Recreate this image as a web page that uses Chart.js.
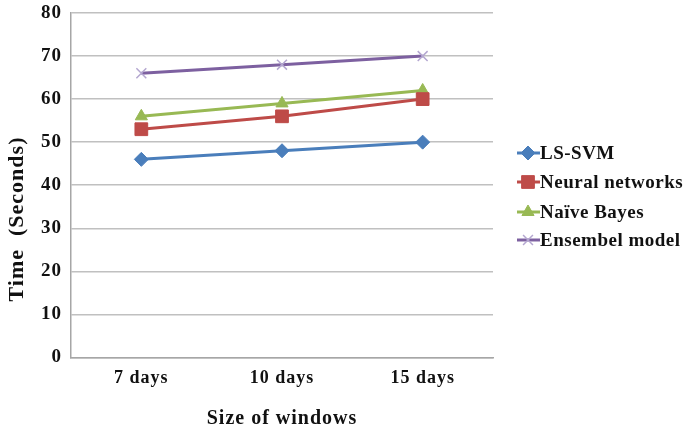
<!DOCTYPE html>
<html>
<head>
<meta charset="utf-8">
<script src="https://cdn.jsdelivr.net/npm/chart.js@4"></script>
<style>
  html, body { margin: 0; padding: 0; background: #fff; }
  #wrap { width: 687px; height: 429px; }
</style>
</head>
<body>
<div id="wrap"><canvas id="timeChart" width="687" height="429"></canvas></div>
<script>
const windowSizes = ["7 days", "10 days", "15 days"];
const lsSvm = [46, 48, 50];
const neuralNetworks = [53, 56, 60];
const naiveBayes = [56, 59, 62];
const ensembelModel = [66, 68, 70];
const yTicks = [0, 10, 20, 30, 40, 50, 60, 70, 80];
const yTitle = "Time  (Seconds)";

const serif = "'Liberation Serif', 'Times New Roman', serif";

// the source text is set a little loose, so widen letters before layout
const looseText = {
    id: "looseText",
    beforeUpdate(chart) { chart.ctx.letterSpacing = "1px"; },
    beforeDraw(chart) { chart.ctx.letterSpacing = "1px"; }
};

// y title sits lower than the plot centre in the source, so draw it by hand
const sideTitle = {
    id: "sideTitle",
    afterDraw(chart) {
        const ctx = chart.ctx;
        ctx.save();
        ctx.translate(17, 219);
        ctx.rotate(-Math.PI / 2);
        ctx.letterSpacing = "1px";
        ctx.font = "bold 22px " + serif;
        ctx.fillStyle = "#111";
        ctx.textAlign = "center";
        ctx.textBaseline = "middle";
        ctx.fillText(yTitle, 0, 0);
        ctx.restore();
    }
};

// legend drawn by hand: short line + marker, then bold label
const sideLegend = {
    id: "sideLegend",
    afterDraw(chart) {
        const ctx = chart.ctx;
        const x0 = 528;
        const rows = [153, 182, 212, 240];
        chart.data.datasets.forEach((ds, i) => {
            const y = rows[i];
            ctx.save();
            ctx.strokeStyle = ds.borderColor;
            ctx.lineWidth = 3;
            ctx.beginPath();
            ctx.moveTo(x0 - 11, y);
            ctx.lineTo(x0 + 12, y);
            ctx.stroke();
            ctx.fillStyle = ds.pointBackgroundColor;
            ctx.strokeStyle = ds.pointBorderColor;
            ctx.lineWidth = ds.pointBorderWidth || 1;
            Chart.helpers.drawPoint(ctx, {
                pointStyle: ds.pointStyle,
                rotation: 0,
                radius: ds.pointRadius,
                borderWidth: ds.pointBorderWidth || 1
            }, x0, y);
            ctx.fillStyle = "#111";
            ctx.letterSpacing = "0.5px";
            ctx.font = "bold 19px " + serif;
            ctx.textBaseline = "middle";
            ctx.fillText(ds.label, x0 + 12, y + 1);
            ctx.restore();
        });
    }
};

const makeSet = (label, data, color, style, extra) => Object.assign({
    label: label,
    data: data,
    borderColor: color,
    backgroundColor: color,
    pointBackgroundColor: color,
    pointBorderColor: color,
    pointStyle: style,
    pointRadius: 6,
    pointHoverRadius: 6,
    pointBorderWidth: 1,
    borderWidth: 3,
    tension: 0
}, extra || {});

new Chart(document.getElementById("timeChart"), {
    type: "line",
    data: {
        labels: windowSizes,
        datasets: [
            makeSet("LS-SVM", lsSvm, "#4a7ebb", "rectRot", { pointRadius: 7 }),
            makeSet("Neural networks", neuralNetworks, "#be4b48", "rect", { pointRadius: 9 }),
            makeSet("Naïve Bayes", naiveBayes, "#98b954", "triangle", { pointRadius: 7 }),
            makeSet("Ensembel model", ensembelModel, "#7d60a0", "crossRot", {
                pointRadius: 7,
                pointBorderColor: "#b4a7d0",
                pointBackgroundColor: "#b4a7d0",
                pointBorderWidth: 1.5
            })
        ]
    },
    options: {
        responsive: false,
        animation: false,
        layout: { padding: { top: 13, right: 194, left: 32, bottom: 0 } },
        plugins: {
            legend: { display: false },
            tooltip: { enabled: false }
        },
        scales: {
            x: {
                offset: true,
                grid: { display: false, drawTicks: false },
                border: { color: "#a6a6a6", width: 1.5 },
                ticks: {
                    color: "#111",
                    padding: 10,
                    font: { family: serif, size: 18, weight: "bold" }
                },
                title: {
                    display: true,
                    text: "Size of windows",
                    color: "#111",
                    padding: { top: 10, bottom: 0 },
                    font: { family: serif, size: 20, weight: "bold", lineHeight: 1 }
                }
            },
            y: {
                min: 0,
                max: 80,
                afterBuildTicks: (axis) => { axis.ticks = yTicks.map((v) => ({ value: v })); },
                // tick padding is horizontal here; don't let it push the plot down
                afterFit: (axis) => { axis.paddingTop = 0; },
                grid: { color: "#c0c0c0", lineWidth: 1.5, drawTicks: false },
                border: { color: "#a6a6a6", width: 1.5 },
                ticks: {
                    color: "#111",
                    padding: 9,
                    font: { family: serif, size: 19, weight: "bold", lineHeight: 1 }
                }
            }
        }
    },
    plugins: [looseText, sideTitle, sideLegend]
});
</script>
</body>
</html>
